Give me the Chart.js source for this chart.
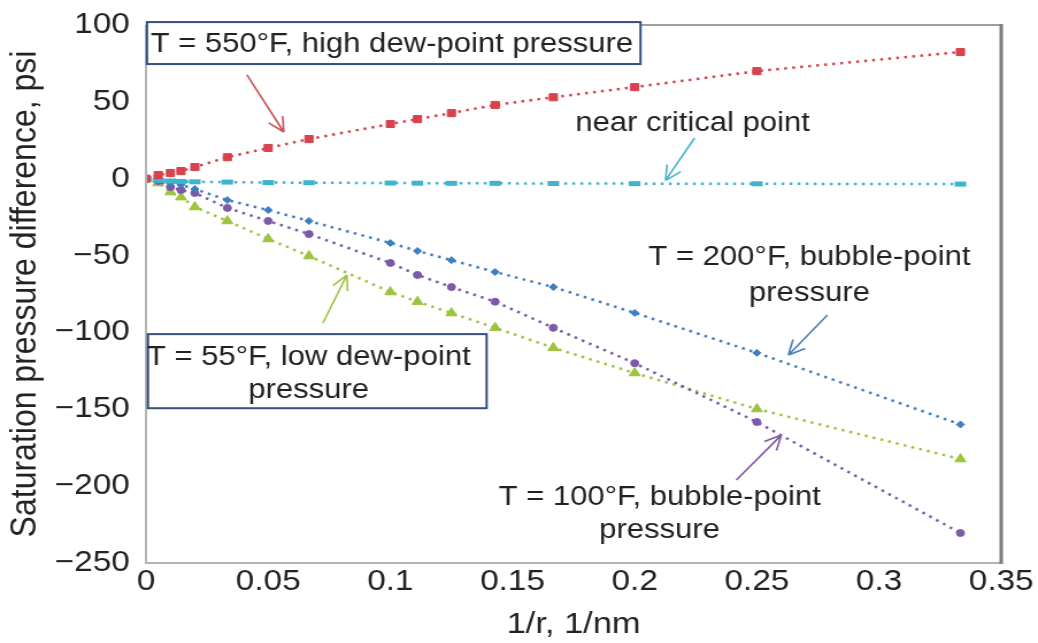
<!DOCTYPE html>
<html>
<head>
<meta charset="utf-8">
<script src="https://cdn.jsdelivr.net/npm/chart.js@4/dist/chart.umd.min.js"></script>
<style>
  html, body { margin: 0; padding: 0; background: #fff; overflow: hidden; }
  /* the original figure is a bit wider than tall, so stretch the whole canvas */
  #wrap { width: 903px; height: 643px; transform: scaleX(1.1495); transform-origin: 0 0; }
</style>
</head>
<body>
<div id="wrap"><canvas id="chart"></canvas></div>
<script>
// 1/r, 1/nm
const xValues = [0, 0.005, 0.01, 0.0143, 0.02, 0.0333, 0.05, 0.0667, 0.1, 0.1111, 0.125, 0.1429, 0.1667, 0.2, 0.25, 0.3333];

// saturation pressure difference, psi
const dew550 = [0, 2.4, 3.7, 5, 7.6, 14, 20, 25.8, 35.6, 38.8, 42.7, 48, 53, 59.6, 70, 82.4];
const nearCritical = [0, -1, -1.5, -1.8, -2, -2.2, -2.5, -2.6, -2.8, -2.9, -3, -3, -3.1, -3.2, -3.3, -3.5];
const bubble200 = [0, -1, -2.8, -4, -6.7, -13.9, -20.4, -27.5, -41.8, -47, -53, -60.7, -70.5, -87.3, -113.3, -159.9];
const bubble100 = [0, -1.5, -5.4, -7.4, -9.3, -19, -27.5, -36, -54.8, -62.6, -70.5, -80, -97, -120, -158.3, -230.5];
const dew55 = [0, -2.8, -8.7, -12, -18.4, -27.5, -39.2, -50.3, -73.7, -80, -87.4, -97, -110, -126.4, -149.8, -182.4];

const xTicks = [0, 0.05, 0.1, 0.15, 0.2, 0.25, 0.3, 0.35];
const xTickLabels = ['0', '0.05', '0.1', '0.15', '0.2', '0.25', '0.3', '0.35'];
const yTicks = [100, 50, 0, -50, -100, -150, -200, -250];
const yTickLabels = ['100', '50', '0', '\u221250', '\u2212100', '\u2212150', '\u2212200', '\u2212250'];

// callouts, in data units
const boxes = [
  { x0: 0.0004, x1: 0.2024, y0: 101.9, y1: 74.6 },
  { x0: 0.0008, x1: 0.1394, y0: -101.1, y1: -149.3 }
];
const notes = [
  { x: 0.1006, y: 87.6, text: 'T = 550\u00b0F, high dew-point pressure' },
  { x: 0.2237, y: 36.2, text: 'near critical point' },
  { x: 0.2715, y: -51.6, text: 'T = 200\u00b0F, bubble-point' },
  { x: 0.2715, y: -74.4, text: 'pressure' },
  { x: 0.0666, y: -116.3, text: 'T = 55\u00b0F, low dew-point' },
  { x: 0.0666, y: -137.8, text: 'pressure' },
  { x: 0.2102, y: -207.1, text: 'T = 100\u00b0F, bubble-point' },
  { x: 0.2102, y: -228.6, text: 'pressure' }
];
const arrows = [
  { x1: 0.0413, y1: 67.5, x2: 0.0564, y2: 30.4, color: '#c9525b' },
  { x1: 0.2245, y1: 26.5, x2: 0.2126, y2: -1.1, color: '#4ab2ca' },
  { x1: 0.2789, y1: -88.7, x2: 0.2629, y2: -114.7, color: '#4a80bb' },
  { x1: 0.0724, y1: -93.9, x2: 0.0822, y2: -62.7, color: '#9cc444' },
  { x1: 0.2416, y1: -196, x2: 0.26, y2: -166.8, color: '#7d5aa8' }
];

const FONT = '"Liberation Sans", Arial, sans-serif';
const pts = ys => ys.map((y, i) => ({ x: xValues[i], y: y }));

function series(data, color, style, radius, extra) {
  return Object.assign({
    data: pts(data),
    borderColor: color,
    backgroundColor: color,
    pointBackgroundColor: color,
    pointBorderColor: color,
    borderWidth: 2.5,
    borderDash: [2.5, 4.5],
    pointStyle: style,
    pointRadius: radius,
    pointBorderWidth: 1,
    showLine: true,
    fill: false
  }, extra || {});
}

const calloutPlugin = {
  id: 'callouts',
  afterDraw(chart) {
    const { ctx, chartArea: a, scales: { x, y } } = chart;
    ctx.save();
    // frame round the plot
    ctx.lineWidth = 2;
    ctx.strokeStyle = '#b4b4b4';
    ctx.beginPath();
    ctx.moveTo(a.left, a.top); ctx.lineTo(a.left, a.bottom); ctx.lineTo(a.right, a.bottom);
    ctx.stroke();
    ctx.strokeStyle = '#a0a0a0';
    ctx.beginPath(); ctx.moveTo(a.left, a.top); ctx.lineTo(a.right, a.top); ctx.stroke();
    ctx.lineWidth = 3;
    ctx.strokeStyle = '#7c7c7c';
    ctx.beginPath(); ctx.moveTo(a.right, a.top - 1); ctx.lineTo(a.right, a.bottom + 1); ctx.stroke();

    boxes.forEach(b => {
      const l = x.getPixelForValue(b.x0), r = x.getPixelForValue(b.x1);
      const t = y.getPixelForValue(b.y0), btm = y.getPixelForValue(b.y1);
      ctx.fillStyle = '#fff';
      ctx.fillRect(l, t, r - l, btm - t);
      ctx.lineWidth = 2;
      ctx.strokeStyle = '#34507e';
      ctx.strokeRect(l, t, r - l, btm - t);
    });

    ctx.fillStyle = '#222';
    ctx.font = '27px ' + FONT;
    ctx.textAlign = 'center';
    ctx.textBaseline = 'middle';
    notes.forEach(n => ctx.fillText(n.text, x.getPixelForValue(n.x), y.getPixelForValue(n.y)));

    arrows.forEach(ar => {
      const x1 = x.getPixelForValue(ar.x1), y1 = y.getPixelForValue(ar.y1);
      const x2 = x.getPixelForValue(ar.x2), y2 = y.getPixelForValue(ar.y2);
      const ang = Math.atan2(y2 - y1, x2 - x1);
      ctx.strokeStyle = ar.color;
      ctx.lineWidth = 1.6;
      ctx.beginPath();
      ctx.moveTo(x1, y1); ctx.lineTo(x2, y2);
      [0.45, -0.45].forEach(d => {
        ctx.moveTo(x2, y2);
        ctx.lineTo(x2 - 16 * Math.cos(ang + d), y2 - 16 * Math.sin(ang + d));
      });
      ctx.stroke();
    });
    ctx.restore();
  }
};

new Chart(document.getElementById('chart'), {
  type: 'scatter',
  data: {
    datasets: [
      series(dew550, '#d8434d', 'rect', 5),
      series(nearCritical, '#3fb4cf', 'line', 5, { pointBorderWidth: 5 }),
      series(bubble200, '#3e7ec2', 'rectRot', 3.5),
      series(bubble100, '#7d5aa8', 'circle', 3.5),
      series(dew55, '#9cc43f', 'triangle', 5.5)
    ]
  },
  options: {
    responsive: true,
    maintainAspectRatio: false,
    animation: false,
    devicePixelRatio: 1,
    layout: { padding: { top: 25, right: 32, left: 0, bottom: 0 } },
    plugins: { legend: { display: false }, tooltip: { enabled: false } },
    scales: {
      x: {
        type: 'linear',
        min: 0,
        max: 0.35,
        afterFit: s => { s.height = 80; s.paddingLeft = 0; s.paddingRight = 0; },
        afterBuildTicks: s => { s.ticks = xTicks.map(v => ({ value: v })); },
        grid: { display: false, drawTicks: false },
        border: { display: false },
        ticks: {
          padding: 2,
          color: '#222',
          font: { family: FONT, size: 29 },
          callback: (v, i) => xTickLabels[i]
        },
        title: {
          display: true,
          text: '1/r, 1/nm',
          color: '#222',
          font: { family: FONT, size: 30 },
          padding: { top: 0, bottom: 0 }
        }
      },
      y: {
        type: 'linear',
        min: -250,
        max: 100,
        afterFit: s => { s.width = 127; s.paddingTop = 0; s.paddingBottom = 0; },
        afterBuildTicks: s => { s.ticks = yTicks.map(v => ({ value: v })); },
        grid: { display: false, drawTicks: false },
        border: { display: false },
        ticks: {
          padding: 14,
          color: '#222',
          font: { family: FONT, size: 29 },
          callback: (v, i) => yTickLabels[i]
        },
        title: {
          display: true,
          text: 'Saturation pressure difference, psi',
          color: '#222',
          font: { family: FONT, size: 32 },
          padding: { top: 3, bottom: 0 }
        }
      }
    }
  },
  plugins: [calloutPlugin]
});
</script>
</body>
</html>
